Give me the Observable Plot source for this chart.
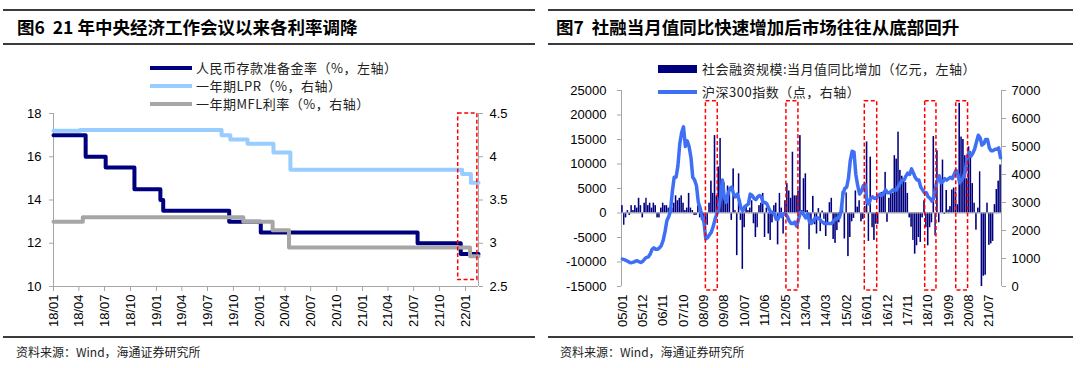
<!DOCTYPE html>
<html><head><meta charset="utf-8">
<script src="https://cdn.jsdelivr.net/npm/d3@7"></script>
<script src="https://cdn.jsdelivr.net/npm/@observablehq/plot@0.6"></script>
<style>
body{margin:0;background:#fff;width:1080px;height:368px;overflow:hidden;position:relative;font-family:"Liberation Sans",Arial,sans-serif;}
.hr{position:absolute;height:2px;background:#3b3b3b;}
.title{position:absolute;top:15px;font-family:"Noto Sans CJK SC";font-weight:bold;font-size:17.5px;color:#000;white-space:nowrap;line-height:24px;z-index:3;}
.src{position:absolute;top:343px;font-family:"Noto Sans CJK SC";font-size:12px;color:#222;white-space:nowrap;z-index:3;}
.leg{position:absolute;font-family:"Noto Sans CJK SC";font-size:13px;letter-spacing:0.5px;color:#222;white-space:nowrap;line-height:16px;z-index:3;}
.sw{position:absolute;}
.chart{position:absolute;top:0;z-index:1;}
</style>
</head><body>
<div class="hr" style="left:3px;width:532px;top:9px"></div>
<div class="hr" style="left:3px;width:532px;top:43px"></div>
<div class="hr" style="left:548px;width:525px;top:9px"></div>
<div class="hr" style="left:548px;width:525px;top:43px"></div>
<div class="hr" style="left:3px;width:532px;top:336px"></div>
<div class="hr" style="left:548px;width:525px;top:336px"></div>
<div class="title" style="left:17px">图6&nbsp;&nbsp;21 年中央经济工作会议以来各利率调降</div>
<div class="title" style="left:556px">图7&nbsp;&nbsp;社融当月值同比快速增加后市场往往从底部回升</div>
<div class="src" style="left:16px">资料来源：Wind，海通证券研究所</div>
<div class="src" style="left:560px">资料来源：Wind，海通证券研究所</div>

<div class="sw" style="left:150px;top:66px;width:42px;height:4px;background:#00007f;z-index:3"></div>
<div class="leg" style="left:196px;top:60px">人民币存款准备金率（%，左轴）</div>
<div class="sw" style="left:150px;top:84px;width:42px;height:4px;background:#99ccff;z-index:3"></div>
<div class="leg" style="left:196px;top:78px">一年期LPR（%，右轴）</div>
<div class="sw" style="left:150px;top:102px;width:42px;height:4px;background:#a6a6a6;z-index:3"></div>
<div class="leg" style="left:196px;top:96px">一年期MFL利率（%，右轴）</div>

<div class="sw" style="left:658px;top:65px;width:39px;height:8px;background:#00007f;z-index:3"></div>
<div class="leg" style="left:702px;top:61px">社会融资规模:当月值同比增加（亿元，左轴）</div>
<div class="sw" style="left:658px;top:90px;width:39px;height:4px;background:#3f6ff5;z-index:3"></div>
<div class="leg" style="left:702px;top:84px">沪深300指数（点，右轴）</div>

<div id="c6" class="chart" style="left:0px"></div>
<div id="c7" class="chart" style="left:540px"></div>
<script>
// ---------- Figure 6 data ----------
const rrrDates  = ["2018-01-01","2018-04-25","2018-07-05","2018-10-15","2019-01-15","2019-01-25","2019-09-16","2020-01-06","2021-07-15","2021-12-15","2022-02-16"];
const rrrValues = [17, 16, 15.5, 14.5, 14, 13.5, 13, 12.5, 12, 11.5, 11.5];
const lprDates  = ["2018-01-01","2018-04-05","2019-08-20","2019-09-20","2019-11-20","2020-02-20","2020-04-20","2021-12-20","2022-01-20","2022-02-16"];
const lprValues = [4.30, 4.31, 4.25, 4.20, 4.15, 4.05, 3.85, 3.80, 3.70, 3.70];
const mlfDates  = ["2018-01-01","2018-04-15","2019-11-05","2020-02-17","2020-04-15","2022-01-17","2022-02-16"];
const mlfValues = [3.25, 3.30, 3.25, 3.15, 2.95, 2.85, 2.85];
const fig6LeftTicks  = [10, 12, 14, 16, 18];
const fig6RightTicks = [2.5, 3, 3.5, 4, 4.5];
const fig6XTicks = ["2018-01","2018-04","2018-07","2018-10","2019-01","2019-04","2019-07","2019-10","2020-01","2020-04","2020-07","2020-10","2021-01","2021-04","2021-07","2021-10","2022-01"];
const fig6Box = [{x1:"2021-12-06", x2:"2022-02-12", y1:10.3, y2:18}];

// ---------- Figure 7 data ----------
const tsfStartMonth = "2005-01";
// 社会融资规模:当月值同比增加（亿元）, monthly 2005-01 .. 2022-01
const tsfYoY = [
 1500,-2500,-1000,500,-500,1500,500,1500,1000,3000,1500,-1000,
 2000,3000,1500,2000,1000,2000,1500,-1000,-1000,1000,2000,1500,
 1500,1000,1000,1000,2000,3500,2500,3000,3500,2000,500,1000,
 4000,1000,500,-500,-500,1500,-1000,-1500,-1000,-3000,-2500,2000,
 6500,4000,15800,3500,9400,15200,5500,6200,3500,5500,4000,-1500,
 9000,500,-8700,8000,-1500,-11500,-3000,1500,500,1000,2500,-2200,
 -5000,-3000,1500,2000,4000,-5000,1000,-4300,-5600,-2000,1500,2000,
 -6500,4000,1000,-4300,2500,6000,4500,3000,12400,3500,3500,4500,
 15800,500,7000,8000,500,-7500,-2200,3400,-2400,-4300,900,-3800,
 400,-1300,-4800,-2000,2100,3000,-5400,-6200,-3600,-2000,-800,4400,
 -5300,4100,-8900,-5000,-1800,-1100,4500,1200,2500,-1800,-1300,1300,
 14500,-5800,11400,-3000,-5600,-2300,-2300,3900,4200,4200,8300,-1900,
 3000,4000,4000,11700,11000,16500,8700,7500,6500,6200,4000,-1000,
 -2900,-5600,-8400,-6700,-5000,-6000,-1000,2500,-3000,-6700,-3000,-2000,
 15600,-4700,12700,-2000,6400,10800,-300,4600,600,1300,4700,5100,
 4300,1700,22400,15500,15000,11700,7000,13500,12500,6000,2000,-3500,
 1000,8400,-16000,-12900,-12700,2000,-6600,-6300,-5800,1700,4800,6500,
 9800
];
// 沪深300指数（点）, monthly 2005-01 .. 2022-01
const hs300 = [
 980,960,930,900,860,850,870,900,920,880,860,900,
 980,1040,1050,1150,1320,1380,1330,1330,1380,1460,1650,1950,
 2350,2500,2700,3400,3900,3900,4300,5100,5500,5700,5000,5200,
 5000,4600,3900,3800,3600,3000,2800,2500,2300,1700,1750,1850,
 1950,2150,2400,2600,2800,3200,3800,3200,3000,3300,3500,3550,
 3300,3200,3300,3100,2800,2700,2850,2900,2950,3300,3250,3150,
 3100,3200,3250,3200,3000,3000,2950,2800,2650,2650,2600,2400,
 2400,2600,2500,2600,2600,2500,2350,2250,2250,2300,2150,2400,
 2650,2650,2550,2450,2600,2300,2250,2350,2450,2450,2450,2350,
 2300,2250,2250,2250,2250,2250,2350,2400,2450,2450,2700,3300,
 3500,3550,3850,4500,4830,4800,4000,3600,3300,3400,3600,3650,
 3000,2950,3150,3200,3150,3150,3250,3300,3250,3350,3450,3350,
 3350,3400,3450,3450,3450,3600,3700,3800,3800,3950,4050,4000,
 4200,4050,3900,3800,3800,3550,3450,3350,3350,3200,3150,3050,
 3150,3550,3800,3950,3700,3750,3850,3800,3850,3900,3850,4000,
 4150,4000,3700,3800,3900,4100,4600,4800,4650,4750,4900,5150,
 5400,5300,5050,5100,5250,5250,4950,4850,4850,4900,4900,4950,
 4600
];
const fig7LeftTicks  = [-15000,-10000,-5000,0,5000,10000,15000,20000,25000];
const fig7RightTicks = [0,1000,2000,3000,4000,5000,6000,7000];
const fig7XTicks = ["2005-01","2005-12","2006-11","2007-10","2008-09","2009-08","2010-07","2011-06","2012-05","2013-04","2014-03","2015-02","2016-01","2016-12","2017-11","2018-10","2019-09","2020-08","2021-07"];
const fig7Boxes = [
 {x1:"2008-10-18", x2:"2009-05-01"},
 {x1:"2012-06-01", x2:"2012-12-15"},
 {x1:"2015-12-10", x2:"2016-07-01"},
 {x1:"2018-08-28", x2:"2019-03-01"},
 {x1:"2020-01-20", x2:"2020-08-01"}
];
const fig7BoxTop = 22800, fig7BoxBottom = -15800;

// ---------- helpers ----------
const axisGray = "#a6a6a6";
const pd = d3.utcParse("%Y-%m-%d");
const pm = d3.utcParse("%Y-%m");
const fontFam = "Liberation Sans, Arial, sans-serif";
const baseStyle = {fontFamily: fontFam, fontSize: "13px", color: "#000", background: "transparent", overflow: "visible"};
const rows = (ds, vs) => ds.map((d, i) => ({date: pd(d), v: vs[i]}));

// ---------- Figure 6 ----------
{
  const toL = v => 10 + (v - 2.5) * 4;
  const fromL = y => String(+((y - 10) / 4 + 2.5).toFixed(2));
  const x0 = pd("2018-01-01"), x1 = pd("2022-02-16");
  const plot = Plot.plot({
    width: 540, height: 340,
    marginLeft: 53, marginRight: 62, marginTop: 113, marginBottom: 54,
    style: baseStyle,
    x: {type: "utc", domain: [x0, x1]},
    y: {domain: [10, 18]},
    marks: [
      Plot.ruleY([10], {stroke: axisGray}),
      Plot.ruleX([x0], {stroke: axisGray}),
      Plot.ruleX([x1], {stroke: axisGray}),
      Plot.axisY(fig6LeftTicks, {anchor: "left", tickSize: 4, tickPadding: 8, stroke: axisGray, label: null, tickFormat: d => String(d)}),
      Plot.axisY(fig6RightTicks.map(toL), {anchor: "right", tickSize: 4, tickPadding: 7, stroke: axisGray, label: null, tickFormat: fromL}),
      Plot.axisX(fig6XTicks.map(pm), {anchor: "bottom", tickSize: 5, tickPadding: 3, tickRotate: -90, stroke: axisGray, label: null, tickFormat: d3.utcFormat("%y/%m")}),
      Plot.line(rows(rrrDates, rrrValues), {x: "date", y: "v", curve: "step-after", stroke: "#00007f", strokeWidth: 4}),
      Plot.line(rows(lprDates, lprValues), {x: "date", y: d => toL(d.v), curve: "step-after", stroke: "#99ccff", strokeWidth: 4}),
      Plot.line(rows(mlfDates, mlfValues), {x: "date", y: d => toL(d.v), curve: "step-after", stroke: "#a6a6a6", strokeWidth: 4}),
      Plot.rect(fig6Box, {x1: d => pd(d.x1), x2: d => pd(d.x2), y1: "y1", y2: "y2", fill: "none", stroke: "#ff0000", strokeWidth: 1.5, strokeDasharray: "4,2.5"})
    ]
  });
  document.getElementById("c6").appendChild(plot);
}

// ---------- Figure 7 ----------
{
  const toL = v => -15000 + v * 40000 / 7000;
  const fromL = y => String(Math.round((y + 15000) * 7000 / 40000));
  const start = pm(tsfStartMonth);
  const monthOf = i => d3.utcMonth.offset(start, i);
  const bars = tsfYoY.map((v, i) => ({a: monthOf(i), b: monthOf(i + 1), v}));
  const line = hs300.map((v, i) => ({d: d3.utcDay.offset(monthOf(i), 15), v}));
  const x0 = start, x1 = monthOf(tsfYoY.length);
  const plot = Plot.plot({
    width: 540, height: 340,
    marginLeft: 81, marginRight: 79, marginTop: 90, marginBottom: 54,
    style: baseStyle,
    x: {type: "utc", domain: [x0, x1]},
    y: {domain: [-15000, 25000]},
    marks: [
      Plot.ruleX([x0], {stroke: axisGray}),
      Plot.ruleX([x1], {stroke: axisGray}),
      Plot.axisY(fig7LeftTicks, {anchor: "left", tickSize: 4, tickPadding: 11, stroke: axisGray, label: null, tickFormat: d => String(d)}),
      Plot.axisY(fig7RightTicks.map(toL), {anchor: "right", tickSize: 4, tickPadding: 6, stroke: axisGray, label: null, tickFormat: fromL}),
      Plot.axisX(fig7XTicks.map(s => d3.utcDay.offset(pm(s), 15)), {anchor: "bottom", tickSize: 0, tickPadding: 8, tickRotate: -90, label: null, tickFormat: d3.utcFormat("%y/%m")}),
      Plot.rectY(bars, {x1: "a", x2: "b", y: "v", fill: "#00007f", insetLeft: 0.15, insetRight: 0.15, clip: true}),
      Plot.ruleY([0], {stroke: axisGray}),
      Plot.line(line, {x: "d", y: d => toL(d.v), stroke: "#3f6ff5", strokeWidth: 3.5, strokeLinejoin: "round"}),
      Plot.rect(fig7Boxes, {x1: d => pd(d.x1), x2: d => pd(d.x2), y1: () => fig7BoxBottom, y2: () => fig7BoxTop, fill: "none", stroke: "#ff0000", strokeWidth: 1.5, strokeDasharray: "4,2.5"})
    ]
  });
  document.getElementById("c7").appendChild(plot);
}
</script>
</body></html>
